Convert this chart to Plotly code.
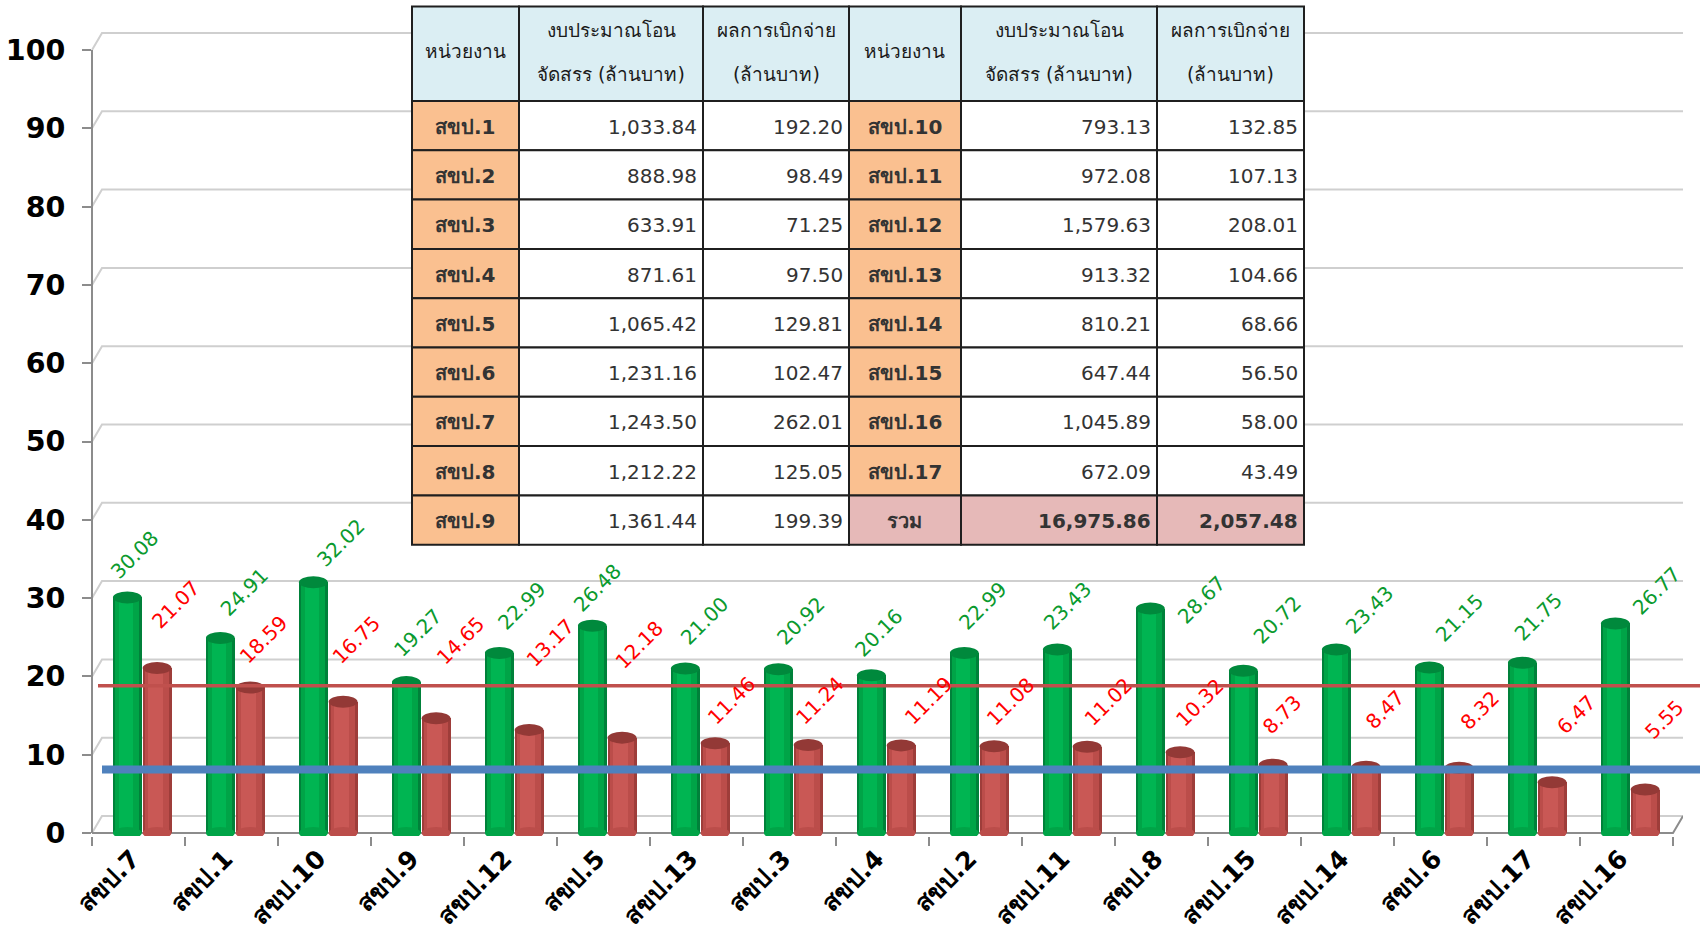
import plotly.graph_objects as go

# ---------------- data ----------------
categories = ['สขป.7', 'สขป.1', 'สขป.10', 'สขป.9', 'สขป.12', 'สขป.5', 'สขป.13', 'สขป.3', 'สขป.4',
              'สขป.2', 'สขป.11', 'สขป.8', 'สขป.15', 'สขป.14', 'สขป.6', 'สขป.17', 'สขป.16']
green_values = [30.08, 24.91, 32.02, 19.27, 22.99, 26.48, 21.00, 20.92, 20.16,
                22.99, 23.43, 28.67, 20.72, 23.43, 21.15, 21.75, 26.77]
red_values = [21.07, 18.59, 16.75, 14.65, 13.17, 12.18, 11.46, 11.24, 11.19,
              11.08, 11.02, 10.32, 8.73, 8.47, 8.32, 6.47, 5.55]
red_target = 18.8
blue_target = 8.1
y_ticks = [0, 10, 20, 30, 40, 50, 60, 70, 80, 90, 100]

header_line1 = ['หน่วยงาน', 'งบประมาณโอน', 'ผลการเบิกจ่าย', 'หน่วยงาน', 'งบประมาณโอน', 'ผลการเบิกจ่าย']
header_line2 = ['', 'จัดสรร (ล้านบาท)', '(ล้านบาท)', '', 'จัดสรร (ล้านบาท)', '(ล้านบาท)']
units_left = ['สขป.1', 'สขป.2', 'สขป.3', 'สขป.4', 'สขป.5', 'สขป.6', 'สขป.7', 'สขป.8', 'สขป.9']
budget_left = [1033.84, 888.98, 633.91, 871.61, 1065.42, 1231.16, 1243.50, 1212.22, 1361.44]
paid_left = [192.20, 98.49, 71.25, 97.50, 129.81, 102.47, 262.01, 125.05, 199.39]
units_right = ['สขป.10', 'สขป.11', 'สขป.12', 'สขป.13', 'สขป.14', 'สขป.15', 'สขป.16', 'สขป.17', 'รวม']
budget_right = [793.13, 972.08, 1579.63, 913.32, 810.21, 647.44, 1045.89, 672.09, 16975.86]
paid_right = [132.85, 107.13, 208.01, 104.66, 68.66, 56.50, 58.00, 43.49, 2057.48]

# data-label placement nudges (pixels), as placed in the original chart
green_label_dx = [-10, 7, 10, -6, 5, -12, 2, 5, -10, 1, -7, 34, 17, 16, 13, -1, 24]
green_label_dy = [11, 14, 8, 18, 16, 6, 16, 17, 11, 16, 12, -23, 19, 8, 18, 14, 1]
red_label_dx = [1, -4, -4, 7, 4, 0, -1, -6, 10, -1, 4, 2, -3, 7, 8, 12, 7]
red_label_dy = [32, 16, 30, 46, 55, 61, 11, 13, 13, 13, 13, 18, 23, 30, 31, 41, 43]

# ---------------- geometry / styling ----------------
W, H = 1700, 937
ML, MR, MT, MB = 92, 17, 6, 101
PLOT_W = W - ML - MR
PLOT_H = H - MT - MB
PX_PER_UNIT = 7.83
Y0_PIX = 833
ymin = -(H - MB - Y0_PIX) / PX_PER_UNIT
ymax = ymin + PLOT_H / PX_PER_UNIT
CAT_PX = (1673 - ML) / len(categories)
xmax = -0.5 + PLOT_W / CAT_PX

G_OFF, R_OFF, BW = -0.275, 0.045, 0.31
TH = "Tahoma, 'DejaVu Sans', sans-serif"


def px_x(p):
    return (p - ML) / PLOT_W


def px_y(p):
    return (H - MB - p) / PLOT_H


fig = go.Figure()
idx = list(range(len(categories)))

# cylinders: layered bodies for a rounded look
green_layers = [(0.0, 0.0, '#00813a'), (0.025, 0.05, '#00a447'), (0.06, 0.15, '#00b552')]
red_layers = [(0.0, 0.0, '#9e3d3a'), (0.025, 0.05, '#bb4d4a'), (0.06, 0.15, '#c95855')]
for dx, dw, col in green_layers:
    fig.add_trace(go.Bar(x=idx, y=green_values, offset=G_OFF + dx, width=BW - dw,
                         marker=dict(color=col, line=dict(width=0)), showlegend=False, hoverinfo='skip'))
for dx, dw, col in red_layers:
    fig.add_trace(go.Bar(x=idx, y=red_values, offset=R_OFF + dx, width=BW - dw,
                         marker=dict(color=col, line=dict(width=0)), showlegend=False, hoverinfo='skip'))

shapes = []
# 3D-style back wall gridlines
dy = 17 / PX_PER_UNIT
dx_paper = 10 / PLOT_W
back_right = px_x(1683)
for v in y_ticks:
    shapes.append(dict(type='path', xref='paper', yref='y', layer='below',
                       path=f"M 0,{v} L {dx_paper},{v + dy} L {back_right},{v + dy}",
                       line=dict(color='#cfcfcf', width=2)))
shapes.append(dict(type='line', xref='paper', yref='y', x0=0, x1=0, y0=0, y1=100,
                   layer='below', line=dict(color='#8c8c8c', width=2)))
shapes.append(dict(type='path', xref='x', yref='y', layer='below',
                   path=f"M -0.5,0 L {len(categories) - 0.5},0 L {len(categories) - 0.5 + 10 / CAT_PX},{dy}",
                   line=dict(color='#8c8c8c', width=2)))

# cylinder end caps (ellipses at bar tops and bottoms)
cap = 6 / PX_PER_UNIT
for i, v in enumerate(green_values):
    shapes.append(dict(type='circle', xref='x', yref='y', layer='above',
                       x0=i + G_OFF, x1=i + G_OFF + BW, y0=-cap, y1=cap,
                       fillcolor='#00a447', line=dict(width=0)))
    shapes.append(dict(type='circle', xref='x', yref='y', layer='above',
                       x0=i + G_OFF, x1=i + G_OFF + BW, y0=v - cap, y1=v + cap,
                       fillcolor='#00893c', line=dict(width=0)))
for i, v in enumerate(red_values):
    shapes.append(dict(type='circle', xref='x', yref='y', layer='above',
                       x0=i + R_OFF, x1=i + R_OFF + BW, y0=-cap, y1=cap,
                       fillcolor='#bb4d4a', line=dict(width=0)))
    shapes.append(dict(type='circle', xref='x', yref='y', layer='above',
                       x0=i + R_OFF, x1=i + R_OFF + BW, y0=v - cap, y1=v + cap,
                       fillcolor='#933936', line=dict(width=0)))

# reference lines
shapes.append(dict(type='line', xref='paper', yref='y', x0=6 / PLOT_W, x1=1.2,
                   y0=red_target, y1=red_target, layer='above',
                   line=dict(color='#c0504d', width=3.5)))
shapes.append(dict(type='line', xref='paper', yref='y', x0=10 / PLOT_W, x1=1.2,
                   y0=blue_target, y1=blue_target, layer='above',
                   line=dict(color='#4f81bd', width=8)))

# data labels
annotations = []
for i, v in enumerate(green_values):
    annotations.append(dict(x=i + G_OFF, y=v, xref='x', yref='y', text=f"{v:.2f}",
                            textangle=-45, xanchor='left', yanchor='bottom', showarrow=False,
                            xshift=green_label_dx[i], yshift=green_label_dy[i],
                            font=dict(family='DejaVu Sans', size=20, color='#0a9a2e')))
for i, v in enumerate(red_values):
    annotations.append(dict(x=i + R_OFF, y=v, xref='x', yref='y', text=f"{v:.2f}",
                            textangle=-45, xanchor='left', yanchor='bottom', showarrow=False,
                            xshift=red_label_dx[i], yshift=red_label_dy[i],
                            font=dict(family='DejaVu Sans', size=20, color='#ff0000')))

# ---------------- table (cells as shapes, text as annotations) ----------------
orange, pink, white, blue_h = '#fac090', '#e6b9b8', '#ffffff', '#dbeef3'
col_widths = [107, 184, 146, 112, 196, 147]
tbl_left, tbl_top, head_h, row_h = 412, 6.5, 94.5, 49.3
n = len(units_left)
fmt = lambda arr: [f"{v:,.2f}" for v in arr]
columns = [[f"<b>{u}</b>" for u in units_left], fmt(budget_left), fmt(paid_left),
           [f"<b>{u}</b>" for u in units_right], fmt(budget_right), fmt(paid_right)]
columns[4][-1] = f"<b>{columns[4][-1]}</b>"
columns[5][-1] = f"<b>{columns[5][-1]}</b>"
col_fill = [[orange] * n, [white] * n, [white] * n,
            [orange] * (n - 1) + [pink], [white] * (n - 1) + [pink], [white] * (n - 1) + [pink]]
col_align = ['center', 'right', 'right', 'center', 'right', 'right']
border = dict(color='#1f1f1f', width=2)

x_edges = [tbl_left]
for w in col_widths:
    x_edges.append(x_edges[-1] + w)

for c in range(len(col_widths)):
    xa, xb = x_edges[c], x_edges[c + 1]
    # header
    shapes.append(dict(type='rect', xref='paper', yref='paper', layer='above',
                       x0=px_x(xa), x1=px_x(xb), y0=px_y(tbl_top + head_h), y1=px_y(tbl_top),
                       fillcolor=blue_h, line=border))
    hfont = dict(family=TH, size=19, color='#1a1a1a')
    if header_line2[c]:
        annotations.append(dict(x=px_x((xa + xb) / 2), y=px_y(tbl_top + 23), xref='paper', yref='paper',
                                text=header_line1[c], showarrow=False, xanchor='center', yanchor='middle',
                                font=hfont))
        annotations.append(dict(x=px_x((xa + xb) / 2), y=px_y(tbl_top + 67), xref='paper', yref='paper',
                                text=header_line2[c], showarrow=False, xanchor='center', yanchor='middle',
                                font=hfont))
    else:
        annotations.append(dict(x=px_x((xa + xb) / 2), y=px_y(tbl_top + 45), xref='paper', yref='paper',
                                text=header_line1[c], showarrow=False, xanchor='center', yanchor='middle',
                                font=hfont))
    # body
    for r in range(n):
        ya = tbl_top + head_h + r * row_h
        yb = ya + row_h
        shapes.append(dict(type='rect', xref='paper', yref='paper', layer='above',
                           x0=px_x(xa), x1=px_x(xb), y0=px_y(yb), y1=px_y(ya),
                           fillcolor=col_fill[c][r], line=border))
        if col_align[c] == 'center':
            tx, anchor = (xa + xb) / 2, 'center'
        else:
            tx, anchor = xb - 4, 'right'
        annotations.append(dict(x=px_x(tx), y=px_y((ya + yb) / 2 + 1), xref='paper', yref='paper',
                                text=columns[c][r], showarrow=False, xanchor=anchor, yanchor='middle',
                                font=dict(family=TH, size=20, color='#333333')))

fig.update_layout(
    width=W, height=H, margin=dict(l=ML, r=MR, t=MT, b=MB, autoexpand=False),
    paper_bgcolor='white', plot_bgcolor='white',
    barmode='overlay', bargap=0,
    showlegend=False,
    annotations=annotations, shapes=shapes,
    xaxis=dict(type='linear', range=[-0.5, xmax], tickmode='array', tickvals=idx,
               ticktext=categories, tickangle=-45, showgrid=False, zeroline=False,
               showline=False, ticks='', automargin=False,
               tickfont=dict(family=TH, size=25, color='#000000', weight='bold'),
               ticklabelstandoff=2, ticklabelshift=-6,
               minor=dict(tickvals=[b - 0.5 for b in range(len(categories) + 1)],
                          ticks='outside', ticklen=9, tickwidth=2, tickcolor='#8c8c8c')),
    yaxis=dict(range=[ymin, ymax], tickmode='array', tickvals=y_ticks,
               showgrid=False, zeroline=False, showline=False, automargin=False,
               ticks='outside', ticklen=9, tickwidth=2, tickcolor='#8c8c8c',
               tickfont=dict(family='DejaVu Sans', size=28.5, color='#000000', weight='bold'),
               ticklabelstandoff=11),
)

fig.write_html("out.html", config={'displayModeBar': False},
               post_script="document.body.style.margin='0px';document.body.style.overflow='hidden';")
